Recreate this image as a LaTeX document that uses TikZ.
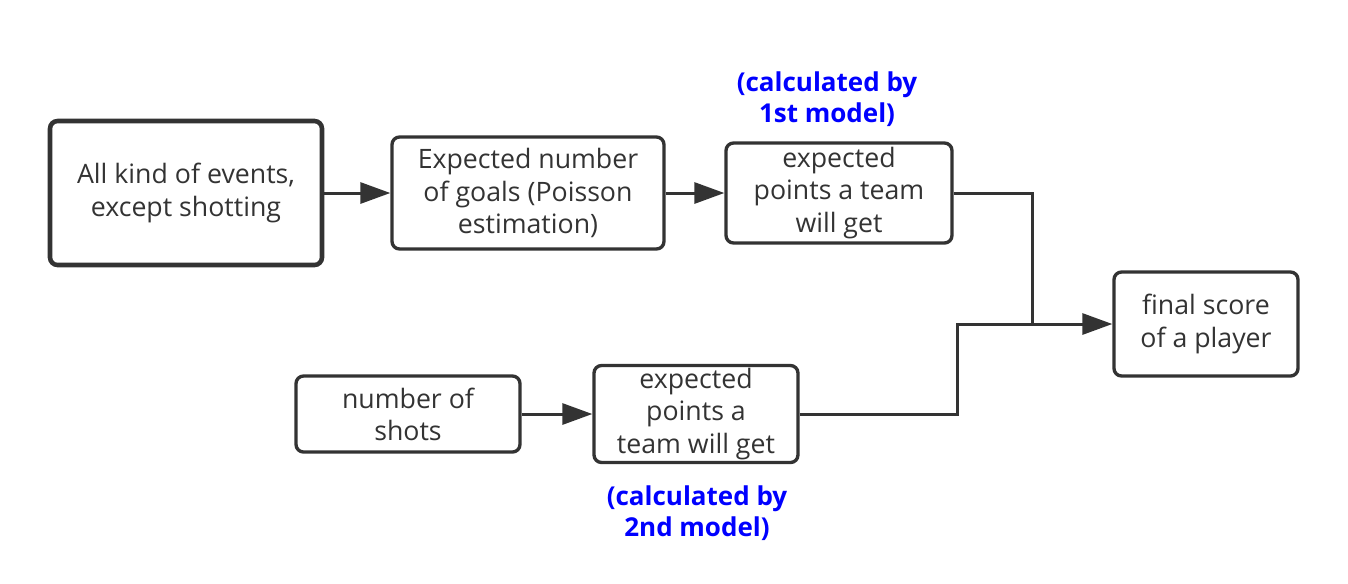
\documentclass[tikz,border=0pt]{standalone}
\usepackage{fontspec}
\setmainfont{Open Sans}
\usetikzlibrary{arrows.meta,positioning}
\definecolor{ink}{HTML}{333333}
\definecolor{note}{RGB}{0,0,255}

\begin{document}
\begin{tikzpicture}[x=0.02cm,y=-0.02cm,
        main/.style = {draw=ink, line width=1.9pt, rounded corners=0.15cm, align=center,
                       text=ink, font=\fontsize{15.2}{18.3}\selectfont, inner sep=0pt},
        remark/.style = {text=note, align=center, font=\fontsize{14.8}{17.5}\selectfont\bfseries},
        link/.style = {draw=ink, line width=1.7pt, -{Triangle[length=0.6cm,width=0.42cm]}},
        wire/.style = {draw=ink, line width=1.7pt}]
        \useasboundingbox (0,0) rectangle (1348,583);
        \node[main, line width=2.6pt, minimum width=5.44cm, minimum height=2.88cm] (1) at (186,193) {All kind of events,\\except shotting};
        \node[main, minimum width=5.44cm, minimum height=2.24cm] (2) at (528,193) {Expected number\\of goals (Poisson\\estimation)};
        \node[main, minimum width=4.52cm, minimum height=2.0cm] (3) at (839,193) {expected\\points a team\\will get};
        \node[main, minimum width=3.68cm, minimum height=2.08cm] (4) at (1206,324) {final score\\of a player};
        \node[main, minimum width=4.48cm, minimum height=1.52cm] (5) at (408,414) {number of\\shots};
        \node[main, minimum width=4.08cm, minimum height=1.94cm] (6) at (696,414) {expected\\points a\\team will get};
        \node[remark] (m1) at (827,99) {(calculated by\\1st model)};
        \node[remark] (m2) at (697,513) {(calculated by\\2nd model)};
        \coordinate (j) at (1032,324);
        \coordinate (k) at (957,324);
        \draw[link] (1) -- (2);
        \draw[link] (2) -- (3);
        \draw[link] (5) -- (6);
        \draw[wire] (3.east) -| (j);
        \draw[wire] (6.east) -| (k) -- (j);
        \draw[link] (j) -- (4);
\end{tikzpicture}
\end{document}
